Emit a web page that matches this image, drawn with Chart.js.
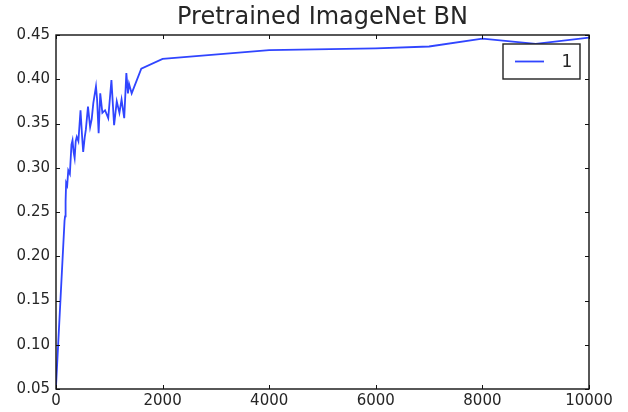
<!DOCTYPE html>
<html>
<head>
<meta charset="utf-8">
<script src="https://cdn.jsdelivr.net/npm/chart.js@4"></script>
<style>
html,body{margin:0;padding:0;background:#fff;}
#wrap{width:628px;height:412px;}
</style>
</head>
<body>
<div id="wrap"><canvas id="c" width="628" height="412"></canvas></div>
<script>
const titleText = "Pretrained ImageNet BN";
const seriesLabel = "1";
const iterations = [0,160,170,180,190,210,230,260,290,310,330,350,370,390,420,460,490,510,540,560,600,640,670,700,750,770,800,830,870,920,980,1040,1090,1140,1190,1230,1280,1320,1350,1370,1420,1600,2000,4000,6000,7000,8000,9000,10000];
const accuracy =   [0.053,0.240,0.245,0.262,0.283,0.280,0.297,0.293,0.326,0.331,0.318,0.311,0.330,0.335,0.330,0.365,0.335,0.318,0.335,0.343,0.369,0.346,0.355,0.373,0.392,0.378,0.339,0.384,0.362,0.365,0.356,0.399,0.348,0.375,0.362,0.377,0.356,0.407,0.384,0.395,0.384,0.412,0.423,0.433,0.435,0.437,0.446,0.440,0.447];
const xTicks = [0,2000,4000,6000,8000,10000];
const yTicks = [0.05,0.10,0.15,0.20,0.25,0.30,0.35,0.40,0.45];

const points = iterations.map((x,i)=>({x:x,y:accuracy[i]}));
const FONT = "'DejaVu Sans', sans-serif";
const TXT = "#262626";

const framePlugin = {
  id:'frame',
  afterDraw(chart){
    const {ctx, chartArea:a, scales} = chart;
    ctx.save();
    ctx.strokeStyle = '#111';
    ctx.lineWidth = 1;
    const tl = 4;
    ctx.beginPath();
    xTicks.forEach(v=>{
      const px = Math.round(scales.x.getPixelForValue(v))+0.5;
      ctx.moveTo(px,a.bottom); ctx.lineTo(px,a.bottom-tl);
      ctx.moveTo(px,a.top); ctx.lineTo(px,a.top+tl);
    });
    yTicks.forEach(v=>{
      const py = Math.round(scales.y.getPixelForValue(v))+0.5;
      ctx.moveTo(a.left,py); ctx.lineTo(a.left+tl,py);
      ctx.moveTo(a.right,py); ctx.lineTo(a.right-tl,py);
    });
    ctx.stroke();
    ctx.lineWidth = 1.4;
    ctx.strokeRect(a.left, a.top, a.right-a.left, a.bottom-a.top);
    // legend
    const bx = a.right - 86, by = a.top + 9, bw = 77, bh = 35;
    ctx.fillStyle = '#fff';
    ctx.fillRect(bx,by,bw,bh);
    ctx.lineWidth = 1.4;
    ctx.strokeStyle = '#222';
    ctx.strokeRect(bx,by,bw,bh);
    const ds = chart.data.datasets[0];
    ctx.strokeStyle = ds.borderColor;
    ctx.lineWidth = ds.borderWidth;
    ctx.beginPath();
    ctx.moveTo(bx+12, by+bh/2); ctx.lineTo(bx+41, by+bh/2);
    ctx.stroke();
    ctx.fillStyle = TXT;
    ctx.font = "17px " + FONT;
    ctx.textAlign = 'center';
    ctx.textBaseline = 'middle';
    ctx.fillText(ds.label, bx+64, by+bh/2+1);
    ctx.restore();
  }
};

new Chart(document.getElementById('c'), {
  type:'line',
  data:{datasets:[{label:seriesLabel,data:points,borderColor:'#3045ff',borderWidth:1.8,pointRadius:0,tension:0,fill:false}]},
  options:{
    responsive:false,
    animation:false,
    layout:{padding:{left:0,right:39,top:0,bottom:0}},
    plugins:{
      legend:{display:false},
      tooltip:{enabled:false},
      title:{display:true,fullSize:false,text:titleText,color:TXT,font:{family:FONT,size:24,weight:'normal',lineHeight:1},padding:{top:6,bottom:5}}
    },
    scales:{
      x:{type:'linear',min:0,max:10000,
        afterBuildTicks(s){s.ticks = xTicks.map(v=>({value:v}));},
        afterFit(s){s.height = 23;},
        grid:{display:false,drawTicks:false},border:{display:false},
        ticks:{color:TXT,font:{family:FONT,size:15},padding:3,maxRotation:0,autoSkip:false,callback:v=>String(v)}},
      y:{type:'linear',min:0.05,max:0.45,
        afterBuildTicks(s){s.ticks = yTicks.map(v=>({value:v}));},
        afterFit(s){s.width = 56;},
        grid:{display:false,drawTicks:false},border:{display:false},
        ticks:{color:TXT,font:{family:FONT,size:15},padding:6,autoSkip:false,callback:v=>Number(v).toFixed(2)}}
    }
  },
  plugins:[framePlugin]
});
</script>
</body>
</html>
